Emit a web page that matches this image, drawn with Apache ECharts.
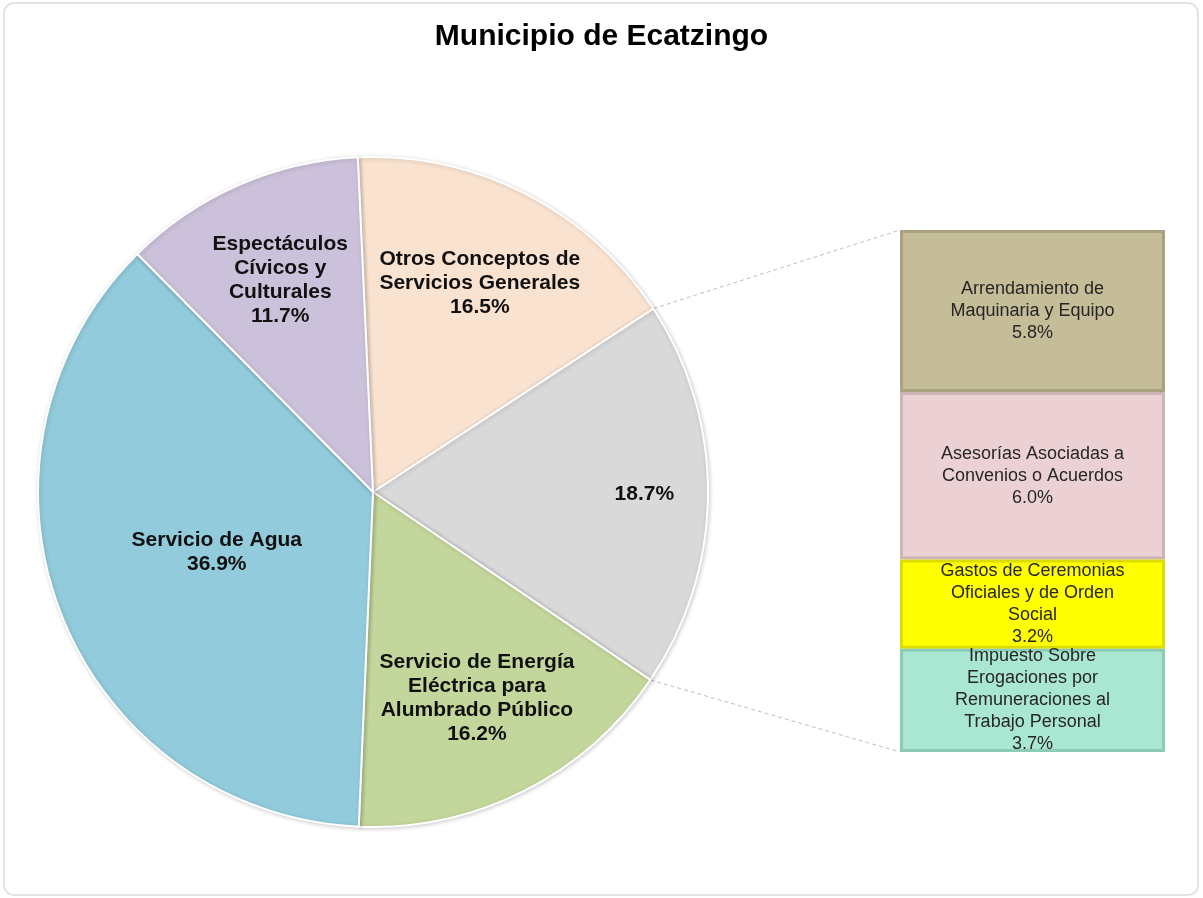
<!DOCTYPE html>
<html>
<head>
<meta charset="utf-8">
<title>Municipio de Ecatzingo</title>
<script src="https://cdn.jsdelivr.net/npm/echarts@6/dist/echarts.min.js"></script>
<style>
html,body{margin:0;padding:0;background:#fff;}
#main{width:1203px;height:898px;}
</style>
</head>
<body>
<div id="main"></div>
<script>
// pie slices, clockwise from the top
var pieNames = ['Otros Conceptos de\nServicios Generales', 'Otros', 'Servicio de Energía\nEléctrica para\nAlumbrado Público', 'Servicio de Agua', 'Espectáculos\nCívicos y\nCulturales'];
var pieValues = [16.5, 18.7, 16.2, 36.9, 11.7];
var breakoutIndex = 1;

// breakdown of the "Otros" slice, top to bottom
var barNames = ['Arrendamiento de\nMaquinaria y Equipo', 'Asesorías Asociadas a\nConvenios o Acuerdos', 'Gastos de Ceremonias\nOficiales y de Orden\nSocial', 'Impuesto Sobre\nErogaciones por\nRemuneraciones al\nTrabajo Personal'];
var barValues = [5.8, 6.0, 3.2, 3.7];

var pieColors = ['#f9e2cf', '#d9d9d9', '#c3d69b', '#92cbdc', '#ccc1da'];
var barColors = ['#c4bd97', '#ebd1d3', '#ffff00', '#aae7d2'];
var barBorders = ['#a9a27f', '#cdb5b7', '#dcdc00', '#8ccbb5'];
var labelRadius = [0.70, 0.81, 0.69, 0.50, 0.69];

var pieCenter = [373, 492];
var pieRadius = 335;
var startAngle = 92.6;
var barRect = {left: 900, top: 230, width: 265, height: 522};
var font = '"Liberation Sans", Arial, sans-serif';

var pieTotal = 0;
for (var i = 0; i < pieValues.length; i++) pieTotal += pieValues[i];
var barTotal = 0;
for (var i = 0; i < barValues.length; i++) barTotal += barValues[i];

function angleAt(k){
    var s = 0;
    for (var i = 0; i < k; i++) s += pieValues[i];
    return startAngle - 360 * s / pieTotal;
}
function piePoint(deg, r){
    var a = deg * Math.PI / 180;
    return [pieCenter[0] + r * Math.cos(a), pieCenter[1] - r * Math.sin(a)];
}

var pieData = [];
for (var i = 0; i < pieValues.length; i++){
    pieData.push({name: pieNames[i], value: pieValues[i], itemStyle: {color: pieColors[i]}});
}

var series = [{
    type: 'pie',
    center: pieCenter,
    radius: pieRadius,
    startAngle: startAngle,
    clockwise: true,
    animation: false,
    itemStyle: {borderColor: '#fff', borderWidth: 2, shadowBlur: 4, shadowColor: 'rgba(0,0,0,0.18)', shadowOffsetX: 1, shadowOffsetY: 1},
    label: {
        show: true,
        position: 'inside',
        color: '#111',
        fontFamily: font,
        fontWeight: 'bold',
        fontSize: 21,
        lineHeight: 24,
        align: 'center',
        formatter: function(p){
            var pct = p.value.toFixed(1) + '%';
            return p.dataIndex === breakoutIndex ? pct : p.name + '\n' + pct;
        }
    },
    labelLayout: function(p){
        var i = p.dataIndex;
        var mid = (angleAt(i) + angleAt(i + 1)) / 2;
        var pt = piePoint(mid, pieRadius * labelRadius[i]);
        return {x: pt[0], y: pt[1], align: 'center', verticalAlign: 'middle'};
    },
    emphasis: {disabled: true},
    data: pieData
}];

for (var i = 0; i < barValues.length; i++){
    series.push({
        type: 'bar',
        name: barNames[i],
        stack: 'otros',
        barWidth: '100%',
        animation: false,
        itemStyle: {color: barColors[i], borderColor: barBorders[i], borderWidth: 3},
        label: {
            show: true,
            position: 'inside',
            color: '#262626',
            fontFamily: font,
            fontSize: 18,
            lineHeight: 22,
            align: 'center',
            formatter: function(p){
                return p.seriesName + '\n' + p.value.toFixed(1) + '%';
            }
        },
        emphasis: {disabled: true},
        data: [barValues[i]]
    });
}

var option = {
    backgroundColor: '#fff',
    title: {
        text: 'Municipio de Ecatzingo',
        left: 'center',
        top: 17,
        textStyle: {fontFamily: font, fontWeight: 'bold', fontSize: 30, color: '#000'}
    },
    grid: {left: barRect.left, top: barRect.top, width: barRect.width, height: barRect.height},
    xAxis: {type: 'category', data: ['Otros'], show: false},
    yAxis: {type: 'value', inverse: true, min: 0, max: barTotal, show: false},
    series: series
};

var myChart = echarts.init(document.getElementById('main'));
myChart.setOption(option);

// frame and the dashed connectors from the "Otros" slice to the bar
var topY = myChart.convertToPixel({gridIndex: 0}, [0, 0])[1];
var bottomY = myChart.convertToPixel({gridIndex: 0}, [0, barTotal])[1];
var p1 = piePoint(angleAt(breakoutIndex), pieRadius);
var p2 = piePoint(angleAt(breakoutIndex + 1), pieRadius);
myChart.setOption({
    graphic: [
        {id: 'frame', type: 'rect', z: -1, shape: {x: 4, y: 3, width: 1194, height: 892, r: 10}, style: {fill: 'none', stroke: '#dcdcdc', lineWidth: 1.5}},
        {id: 'lineTop', type: 'line', shape: {x1: p1[0], y1: p1[1], x2: barRect.left, y2: topY}, style: {stroke: '#bfbfbf', lineWidth: 1, lineDash: [4, 3]}},
        {id: 'lineBottom', type: 'line', shape: {x1: p2[0], y1: p2[1], x2: barRect.left, y2: bottomY}, style: {stroke: '#bfbfbf', lineWidth: 1, lineDash: [4, 3]}}
    ]
});
</script>
</body>
</html>
